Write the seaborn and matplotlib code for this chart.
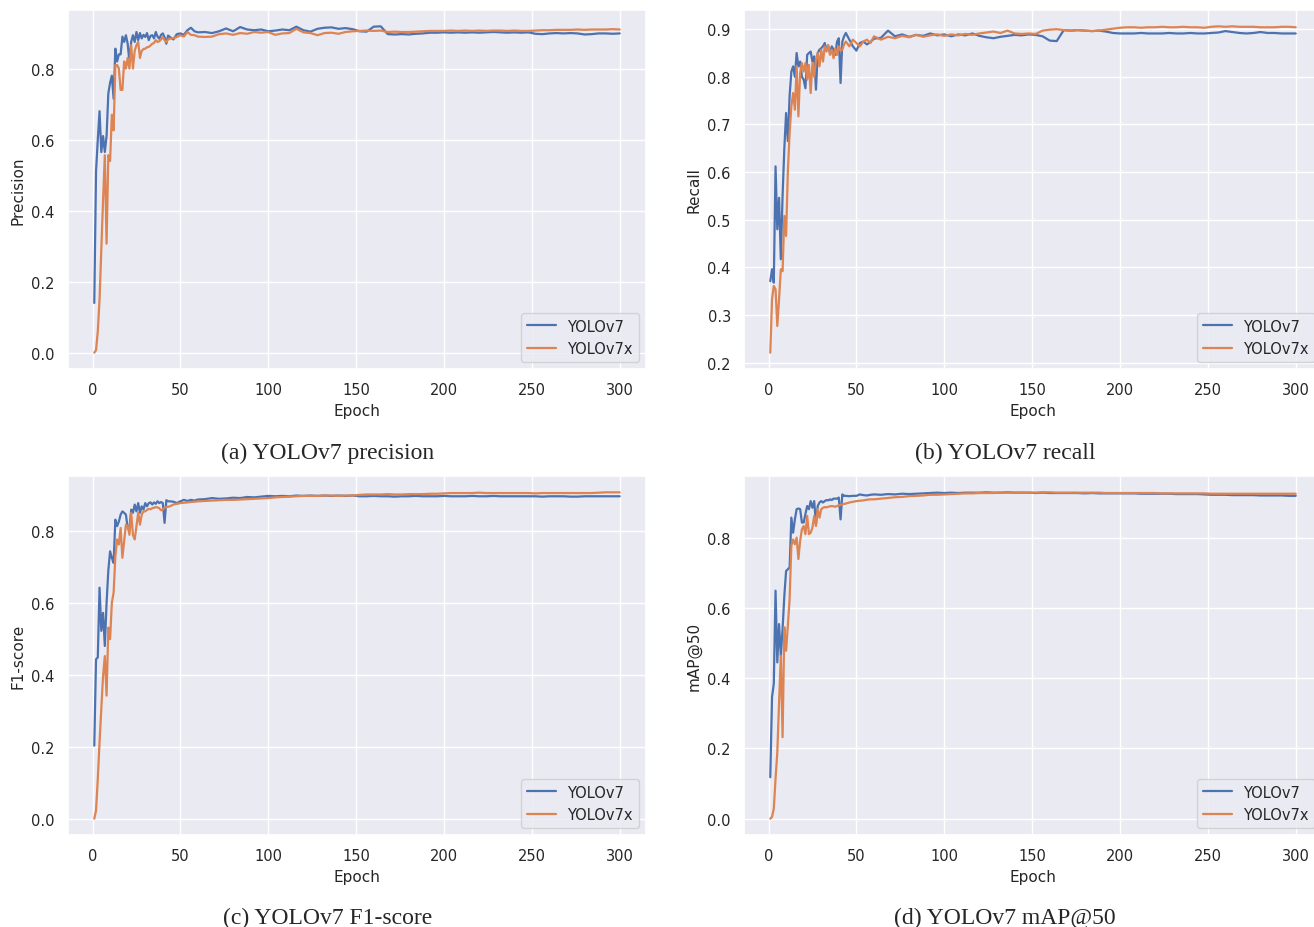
import numpy as np
import pandas as pd
import matplotlib
matplotlib.use("Agg")
import matplotlib.pyplot as plt
import seaborn as sns

# ---------------- data ----------------
EPOCHS = list(range(1, 45)) + list(range(46, 61, 2)) + list(range(64, 301, 4))

MODELS = ["YOLOv7", "YOLOv7x"]

PREC_V7 = [0.14, 0.51, 0.60, 0.68, 0.565, 0.61, 0.565, 0.61, 0.73, 0.76,
           0.78, 0.715, 0.856, 0.82, 0.84, 0.84, 0.89, 0.875, 0.894, 0.87,
           0.82, 0.875, 0.894, 0.875, 0.903, 0.88, 0.90, 0.885, 0.895, 0.889,
           0.90, 0.88, 0.892, 0.894, 0.885, 0.903, 0.89, 0.884, 0.895, 0.899,
           0.888, 0.87, 0.893, 0.889,
           0.882, 0.897, 0.899, 0.895, 0.908, 0.915, 0.905, 0.902,
           0.903, 0.90, 0.905, 0.913, 0.905, 0.917, 0.91, 0.908, 0.91, 0.905,
           0.907, 0.91, 0.908, 0.918, 0.908, 0.904, 0.912, 0.915, 0.916, 0.912,
           0.914, 0.911, 0.905, 0.904, 0.918, 0.919, 0.897, 0.896, 0.897, 0.896,
           0.898, 0.899, 0.901, 0.901, 0.902, 0.901, 0.902, 0.901, 0.902, 0.901,
           0.902, 0.903, 0.902, 0.901, 0.902, 0.901, 0.902, 0.898, 0.897, 0.899,
           0.90, 0.899, 0.90, 0.899, 0.896, 0.897, 0.899, 0.899, 0.898, 0.899]
PREC_V7X = [0.0, 0.007, 0.06, 0.15, 0.29, 0.43, 0.556, 0.307, 0.556, 0.54,
            0.67, 0.626, 0.81, 0.81, 0.80, 0.74, 0.74, 0.82, 0.80, 0.83,
            0.80, 0.866, 0.80, 0.85, 0.866, 0.875, 0.83, 0.85, 0.855, 0.856,
            0.86, 0.861, 0.865, 0.87, 0.872, 0.88, 0.875, 0.877, 0.882, 0.889,
            0.88, 0.875, 0.882, 0.884,
            0.886, 0.889, 0.894, 0.89, 0.903, 0.895, 0.894, 0.89,
            0.889, 0.89, 0.897, 0.899, 0.895, 0.90, 0.898, 0.903, 0.901, 0.903,
            0.895, 0.899, 0.90, 0.912, 0.902, 0.90, 0.894, 0.90, 0.901, 0.898,
            0.903, 0.905, 0.906, 0.907, 0.906, 0.907, 0.903, 0.904, 0.903, 0.903,
            0.904, 0.905, 0.906, 0.906, 0.906, 0.907, 0.906, 0.907, 0.906, 0.907,
            0.906, 0.907, 0.907, 0.906, 0.907, 0.906, 0.906, 0.907, 0.908, 0.908,
            0.909, 0.909, 0.909, 0.91, 0.909, 0.91, 0.91, 0.91, 0.911, 0.91]

REC_V7 = [0.371, 0.396, 0.368, 0.612, 0.48, 0.546, 0.417, 0.55, 0.65, 0.724,
          0.665, 0.76, 0.811, 0.822, 0.80, 0.85, 0.822, 0.832, 0.80, 0.794,
          0.776, 0.846, 0.85, 0.853, 0.832, 0.843, 0.773, 0.85, 0.857, 0.86,
          0.864, 0.871, 0.857, 0.864, 0.85, 0.864, 0.857, 0.846, 0.874, 0.881,
          0.787, 0.874, 0.885, 0.892,
          0.878, 0.864, 0.855, 0.871, 0.874, 0.868, 0.873, 0.88,
          0.882, 0.897, 0.885, 0.889, 0.884, 0.888, 0.886, 0.891, 0.887, 0.889,
          0.885, 0.889, 0.887, 0.891, 0.886, 0.883, 0.881, 0.884, 0.886, 0.888,
          0.887, 0.889, 0.888, 0.885, 0.876, 0.875, 0.898, 0.897, 0.898, 0.897,
          0.896, 0.897, 0.895, 0.892, 0.891, 0.891, 0.891, 0.892, 0.891, 0.891,
          0.891, 0.892, 0.891, 0.891, 0.892, 0.891, 0.891, 0.892, 0.893, 0.896,
          0.894, 0.892, 0.891, 0.892, 0.894, 0.892, 0.892, 0.891, 0.891, 0.891]
REC_V7X = [0.221, 0.333, 0.361, 0.354, 0.277, 0.333, 0.396, 0.392, 0.508, 0.466,
           0.60, 0.682, 0.738, 0.766, 0.731, 0.822, 0.717, 0.808, 0.829, 0.811,
           0.829, 0.794, 0.825, 0.766, 0.829, 0.80, 0.836, 0.85, 0.822, 0.857,
           0.832, 0.864, 0.853, 0.867, 0.846, 0.857, 0.839, 0.86, 0.846, 0.864,
           0.855, 0.857, 0.868, 0.874,
           0.864, 0.878, 0.871, 0.864, 0.874, 0.878, 0.871, 0.885,
           0.878, 0.884, 0.881, 0.886, 0.883, 0.888, 0.884, 0.887, 0.889, 0.886,
           0.889, 0.887, 0.89, 0.888, 0.891, 0.893, 0.895, 0.892, 0.897, 0.891,
           0.89, 0.891, 0.89, 0.897, 0.899, 0.90, 0.898, 0.897, 0.898, 0.897,
           0.896, 0.897, 0.899, 0.901, 0.903, 0.904, 0.904, 0.903, 0.904, 0.904,
           0.905, 0.904, 0.904, 0.905, 0.904, 0.904, 0.903, 0.905, 0.906, 0.905,
           0.906, 0.905, 0.905, 0.905, 0.904, 0.904, 0.904, 0.905, 0.905, 0.904]

F1_V7 = [0.203, 0.443, 0.448, 0.642, 0.522, 0.572, 0.48, 0.60, 0.69, 0.743,
         0.725, 0.711, 0.831, 0.813, 0.826, 0.845, 0.854, 0.85, 0.845, 0.808,
         0.803, 0.859, 0.85, 0.873, 0.854, 0.877, 0.85, 0.868, 0.859, 0.877,
         0.868, 0.877, 0.879, 0.873, 0.879, 0.875, 0.882, 0.877, 0.88, 0.877,
         0.822, 0.885, 0.882, 0.882,
         0.881, 0.877, 0.882, 0.886, 0.883, 0.886, 0.884, 0.887,
         0.888, 0.891, 0.889, 0.89, 0.892, 0.891, 0.894, 0.893, 0.895, 0.897,
         0.896, 0.897, 0.896, 0.898, 0.897, 0.898, 0.897, 0.898, 0.897, 0.898,
         0.897, 0.898, 0.896, 0.896, 0.897, 0.896, 0.896, 0.895, 0.896, 0.896,
         0.897, 0.896, 0.896, 0.896, 0.897, 0.896, 0.896, 0.896, 0.897, 0.896,
         0.896, 0.897, 0.896, 0.896, 0.896, 0.896, 0.896, 0.896, 0.895, 0.896,
         0.896, 0.896, 0.895, 0.895, 0.896, 0.896, 0.896, 0.896, 0.896, 0.896]
F1_V7X = [0.0, 0.023, 0.111, 0.212, 0.305, 0.397, 0.452, 0.342, 0.531, 0.499,
          0.60, 0.628, 0.729, 0.776, 0.762, 0.808, 0.725, 0.771, 0.817, 0.813,
          0.789, 0.85, 0.789, 0.776, 0.813, 0.85, 0.817, 0.845, 0.854, 0.854,
          0.858, 0.861, 0.86, 0.863, 0.864, 0.866, 0.865, 0.863, 0.857, 0.859,
          0.864, 0.866, 0.867, 0.868,
          0.873, 0.875, 0.877, 0.878, 0.879, 0.88, 0.881, 0.882,
          0.883, 0.884, 0.885, 0.886, 0.886, 0.887, 0.888, 0.889, 0.89, 0.891,
          0.893, 0.894, 0.895, 0.896, 0.897, 0.897, 0.897, 0.898, 0.898, 0.897,
          0.898, 0.898, 0.90, 0.901, 0.901, 0.901, 0.902, 0.901, 0.901, 0.902,
          0.902, 0.902, 0.903, 0.903, 0.904, 0.905, 0.905, 0.905, 0.905, 0.906,
          0.905, 0.905, 0.905, 0.905, 0.905, 0.905, 0.905, 0.904, 0.905, 0.905,
          0.905, 0.905, 0.905, 0.905, 0.905, 0.905, 0.906, 0.907, 0.907, 0.907]

MAP_V7 = [0.118, 0.346, 0.384, 0.649, 0.445, 0.554, 0.464, 0.54, 0.634, 0.705,
          0.71, 0.715, 0.857, 0.814, 0.852, 0.881, 0.883, 0.881, 0.843, 0.843,
          0.867, 0.89, 0.881, 0.904, 0.885, 0.904, 0.838, 0.89, 0.90, 0.904,
          0.90, 0.904, 0.907, 0.906, 0.909, 0.907, 0.911, 0.911, 0.911, 0.914,
          0.852, 0.923, 0.919, 0.919,
          0.918, 0.919, 0.919, 0.923, 0.921, 0.92, 0.922, 0.923,
          0.922, 0.924, 0.923, 0.925, 0.924, 0.925, 0.926, 0.927, 0.928, 0.927,
          0.928, 0.927, 0.928, 0.928, 0.928, 0.929, 0.928, 0.928, 0.929, 0.928,
          0.928, 0.928, 0.927, 0.928, 0.927, 0.927, 0.927, 0.927, 0.927, 0.926,
          0.927, 0.926, 0.926, 0.926, 0.926, 0.926, 0.926, 0.925, 0.925, 0.925,
          0.925, 0.925, 0.924, 0.924, 0.924, 0.924, 0.923, 0.922, 0.922, 0.922,
          0.921, 0.921, 0.921, 0.921, 0.92, 0.92, 0.92, 0.92, 0.919, 0.919]
MAP_V7X = [0.0, 0.005, 0.028, 0.114, 0.189, 0.331, 0.464, 0.232, 0.545, 0.478,
           0.549, 0.625, 0.777, 0.795, 0.781, 0.80, 0.739, 0.791, 0.824, 0.833,
           0.81, 0.862, 0.81, 0.814, 0.829, 0.862, 0.833, 0.881, 0.857, 0.881,
           0.885, 0.887, 0.886, 0.888, 0.889, 0.89, 0.889, 0.888, 0.89, 0.892,
           0.893, 0.895, 0.896, 0.897,
           0.90, 0.902, 0.904, 0.905, 0.906, 0.908, 0.909, 0.909,
           0.911, 0.913, 0.915, 0.916, 0.918, 0.919, 0.92, 0.922, 0.922, 0.923,
           0.924, 0.925, 0.926, 0.926, 0.927, 0.927, 0.927, 0.928, 0.928, 0.928,
           0.928, 0.928, 0.928, 0.929, 0.929, 0.928, 0.928, 0.928, 0.928, 0.928,
           0.928, 0.928, 0.927, 0.927, 0.927, 0.927, 0.927, 0.927, 0.927, 0.927,
           0.926, 0.926, 0.926, 0.926, 0.926, 0.926, 0.926, 0.925, 0.925, 0.925,
           0.925, 0.925, 0.925, 0.925, 0.925, 0.925, 0.925, 0.925, 0.925, 0.925]

Y_LABELS = ["Precision", "Recall", "F1-score", "mAP@50"]
CAPTIONS = ["(a) YOLOv7 precision", "(b) YOLOv7 recall",
            "(c) YOLOv7 F1-score", "(d) YOLOv7 mAP@50"]
Y_TICKS = [[0.0, 0.2, 0.4, 0.6, 0.8],
           [0.2, 0.3, 0.4, 0.5, 0.6, 0.7, 0.8, 0.9],
           [0.0, 0.2, 0.4, 0.6, 0.8],
           [0.0, 0.2, 0.4, 0.6, 0.8]]
X_TICKS = [0, 50, 100, 150, 200, 250, 300]

SERIES = [(PREC_V7, PREC_V7X), (REC_V7, REC_V7X), (F1_V7, F1_V7X), (MAP_V7, MAP_V7X)]

# ---------------- plotting ----------------
sns.set_theme(style="darkgrid")
plt.rcParams['font.family'] = ['DejaVu Sans']
FS = 10.5

W, H = 1314, 928
fig = plt.figure(figsize=(W / 100, H / 100), dpi=100)

ax_w = 578 / W
ax_h = 359 / H
lefts = [68 / W, 744 / W]
bottoms = [1 - 370 / H, 1 - 836 / H]
positions = [(lefts[0], bottoms[0]), (lefts[1], bottoms[0]),
             (lefts[0], bottoms[1]), (lefts[1], bottoms[1])]
cap_pos = [(328, 453), (1005, 453), (328, 918), (1005, 918)]

palette = sns.color_palette("deep")

for i in range(4):
    ax = fig.add_axes([positions[i][0], positions[i][1], ax_w, ax_h])
    v7, v7x = SERIES[i]
    assert len(v7) == len(EPOCHS) and len(v7x) == len(EPOCHS)
    df = pd.DataFrame({
        "Epoch": EPOCHS * 2,
        "value": list(v7) + list(v7x),
        "Model": [MODELS[0]] * len(EPOCHS) + [MODELS[1]] * len(EPOCHS),
    })
    sns.lineplot(data=df, x="Epoch", y="value", hue="Model",
                 palette=palette[:2], linewidth=1.6, ax=ax)
    ax.set_xticks(X_TICKS)
    ax.set_yticks(Y_TICKS[i])
    ax.set_yticklabels([f"{t:.1f}" for t in Y_TICKS[i]])
    ax.tick_params(labelsize=FS, colors="#262626")
    ax.set_xlabel("Epoch", fontsize=FS + 0.5)
    ax.set_ylabel(Y_LABELS[i], fontsize=FS + 0.5)
    handles, labels = ax.get_legend_handles_labels()
    ax.legend(handles=handles, labels=labels, loc="lower right",
              fontsize=FS, title=None)
    fig.text(cap_pos[i][0] / W, 1 - cap_pos[i][1] / H, CAPTIONS[i],
             ha="center", va="center", fontsize=17,
             family=["Liberation Serif", "DejaVu Serif"])

fig.savefig("out.png", dpi=100)
